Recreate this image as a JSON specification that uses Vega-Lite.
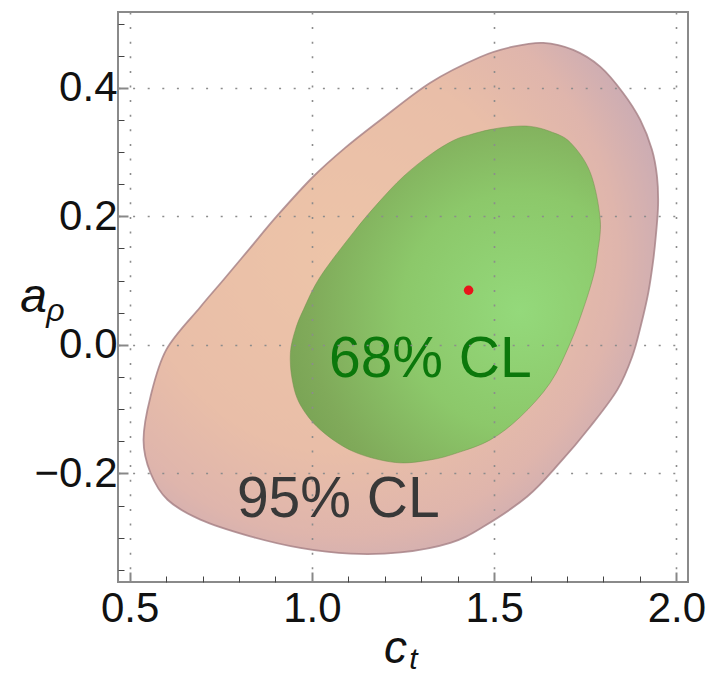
{
  "$schema": "https://vega.github.io/schema/vega-lite/v6.json",
  "width": 570,
  "height": 570,
  "autosize": {"type": "none"},
  "padding": {"left": 118, "top": 12, "right": 23, "bottom": 93},
  "background": "white",
  "config": {"view": {"stroke": "#8a8a8a", "strokeWidth": 2}},
  "datasets": {
    "outer": [
      {"i": 0, "x": 1.635, "y": 0.470},
      {"i": 1, "x": 1.717, "y": 0.459},
      {"i": 2, "x": 1.791, "y": 0.433},
      {"i": 3, "x": 1.854, "y": 0.392},
      {"i": 4, "x": 1.901, "y": 0.350},
      {"i": 5, "x": 1.933, "y": 0.304},
      {"i": 6, "x": 1.947, "y": 0.262},
      {"i": 7, "x": 1.950, "y": 0.218},
      {"i": 8, "x": 1.944, "y": 0.171},
      {"i": 9, "x": 1.936, "y": 0.129},
      {"i": 10, "x": 1.923, "y": 0.081},
      {"i": 11, "x": 1.903, "y": 0.031},
      {"i": 12, "x": 1.879, "y": -0.018},
      {"i": 13, "x": 1.838, "y": -0.070},
      {"i": 14, "x": 1.764, "y": -0.127},
      {"i": 15, "x": 1.681, "y": -0.183},
      {"i": 16, "x": 1.591, "y": -0.236},
      {"i": 17, "x": 1.470, "y": -0.283},
      {"i": 18, "x": 1.380, "y": -0.308},
      {"i": 19, "x": 1.243, "y": -0.323},
      {"i": 20, "x": 1.105, "y": -0.325},
      {"i": 21, "x": 0.968, "y": -0.316},
      {"i": 22, "x": 0.831, "y": -0.298},
      {"i": 23, "x": 0.694, "y": -0.272},
      {"i": 24, "x": 0.604, "y": -0.241},
      {"i": 25, "x": 0.557, "y": -0.199},
      {"i": 26, "x": 0.538, "y": -0.148},
      {"i": 27, "x": 0.557, "y": -0.081},
      {"i": 28, "x": 0.601, "y": -0.007},
      {"i": 29, "x": 0.694, "y": 0.059},
      {"i": 30, "x": 0.757, "y": 0.101},
      {"i": 31, "x": 0.831, "y": 0.151},
      {"i": 32, "x": 0.905, "y": 0.201},
      {"i": 33, "x": 1.004, "y": 0.262},
      {"i": 34, "x": 1.092, "y": 0.307},
      {"i": 35, "x": 1.188, "y": 0.350},
      {"i": 36, "x": 1.325, "y": 0.408},
      {"i": 37, "x": 1.462, "y": 0.448},
      {"i": 38, "x": 1.552, "y": 0.464}
    ],
    "inner": [
      {"i": 0, "x": 1.544, "y": 0.3395},
      {"i": 1, "x": 1.599, "y": 0.340},
      {"i": 2, "x": 1.654, "y": 0.332},
      {"i": 3, "x": 1.709, "y": 0.315},
      {"i": 4, "x": 1.764, "y": 0.268},
      {"i": 5, "x": 1.791, "y": 0.195},
      {"i": 6, "x": 1.783, "y": 0.140},
      {"i": 7, "x": 1.772, "y": 0.106},
      {"i": 8, "x": 1.744, "y": 0.055},
      {"i": 9, "x": 1.709, "y": 0.003},
      {"i": 10, "x": 1.654, "y": -0.059},
      {"i": 11, "x": 1.572, "y": -0.112},
      {"i": 12, "x": 1.489, "y": -0.148},
      {"i": 13, "x": 1.399, "y": -0.168},
      {"i": 14, "x": 1.325, "y": -0.179},
      {"i": 15, "x": 1.229, "y": -0.183},
      {"i": 16, "x": 1.114, "y": -0.166},
      {"i": 17, "x": 1.023, "y": -0.132},
      {"i": 18, "x": 0.968, "y": -0.093},
      {"i": 19, "x": 0.946, "y": -0.054},
      {"i": 20, "x": 0.941, "y": -0.012},
      {"i": 21, "x": 0.955, "y": 0.024},
      {"i": 22, "x": 0.977, "y": 0.055},
      {"i": 23, "x": 1.023, "y": 0.106},
      {"i": 24, "x": 1.114, "y": 0.175},
      {"i": 25, "x": 1.182, "y": 0.221},
      {"i": 26, "x": 1.251, "y": 0.262},
      {"i": 27, "x": 1.325, "y": 0.296},
      {"i": 28, "x": 1.388, "y": 0.318},
      {"i": 29, "x": 1.434, "y": 0.327},
      {"i": 30, "x": 1.489, "y": 0.335}
    ],
    "best": [{"x": 1.430, "y": 0.085}],
    "lab68": [{"x": 1.325, "y": -0.023, "label": "68% CL"}],
    "lab95": [{"x": 1.0725, "y": -0.241, "label": "95% CL"}]
  },
  "resolve": {"axis": {"x": "independent", "y": "independent"}},
  "layer": [
    {
      "data": {"name": "outer"},
      "mark": {
        "type": "line",
        "interpolate": "cardinal-closed",
        "fill": {
          "gradient": "radial",
          "x1": 0.38, "y1": 0.42, "r1": 0,
          "x2": 0.38, "y2": 0.42, "r2": 0.75,
          "stops": [
            {"offset": 0, "color": "#edc4a8"},
            {"offset": 0.5, "color": "#e9bea8"},
            {"offset": 0.72, "color": "#dfb5ac"},
            {"offset": 0.88, "color": "#c9abb4"},
            {"offset": 1, "color": "#ab98b0"}
          ]
        },
        "stroke": "#a58084",
        "strokeWidth": 1.8,
        "strokeOpacity": 0.8
      },
      "encoding": {
        "order": {"field": "i", "type": "quantitative"},
        "x": {
          "field": "x", "type": "quantitative",
          "scale": {"domain": [0.468, 2.032], "nice": false, "zero": false},
          "axis": {
            "orient": "bottom",
            "values": [0.5, 1.0, 1.5, 2.0],
            "format": ".1f",
            "domain": false,
            "grid": true,
            "gridColor": "#8c8c8c",
            "gridDash": [2, 12.6],
            "gridWidth": 1.6,
            "tickSize": -10,
            "tickColor": "#888888",
            "tickWidth": 2,
            "labelFont": "Liberation Sans",
            "labelFontSize": 42,
            "labelColor": "#111111",
            "labelPadding": 16,
            "title": "c",
            "titleFont": "Liberation Sans",
            "titleFontStyle": "italic",
            "titleFontWeight": "normal",
            "titleFontSize": 46,
            "titleColor": "#111111",
            "titleAlign": "center",
            "titleBaseline": "alphabetic",
            "titleX": 277,
            "titleY": 80,
            "zindex": 1
          }
        },
        "y": {
          "field": "y", "type": "quantitative",
          "scale": {"domain": [-0.369, 0.518], "nice": false, "zero": false},
          "axis": {
            "orient": "left",
            "values": [-0.2, 0.0, 0.2, 0.4],
            "format": ".1f",
            "domain": false,
            "grid": true,
            "gridColor": "#8c8c8c",
            "gridDash": [2, 12.6],
            "gridWidth": 1.6,
            "tickSize": -10,
            "tickColor": "#888888",
            "tickWidth": 2,
            "labelFont": "Liberation Sans",
            "labelFontSize": 42,
            "labelColor": "#111111",
            "labelPadding": 11,
            "title": "a",
            "titleFont": "Liberation Sans",
            "titleFontStyle": "italic",
            "titleFontWeight": "normal",
            "titleFontSize": 48,
            "titleColor": "#111111",
            "titleAngle": 0,
            "titleAlign": "center",
            "titleBaseline": "alphabetic",
            "titleX": -85,
            "titleY": 299,
            "zindex": 1
          }
        }
      }
    },
    {
      "data": {"name": "inner"},
      "mark": {
        "type": "line",
        "interpolate": "cardinal-closed",
        "fill": {
          "gradient": "radial",
          "x1": 0.72, "y1": 0.55, "r1": 0,
          "x2": 0.72, "y2": 0.55, "r2": 0.78,
          "stops": [
            {"offset": 0, "color": "#94d97b"},
            {"offset": 0.45, "color": "#8cc86a"},
            {"offset": 0.8, "color": "#80aa5a"},
            {"offset": 1, "color": "#76a052"}
          ]
        },
        "stroke": "#6f8f4c",
        "strokeWidth": 1,
        "strokeOpacity": 0.5
      },
      "encoding": {
        "order": {"field": "i", "type": "quantitative"},
        "x": {"field": "x", "type": "quantitative", "axis": null},
        "y": {"field": "y", "type": "quantitative", "axis": null}
      }
    },
    {
      "data": {"name": "best"},
      "mark": {"type": "point", "filled": true, "color": "#e8141a", "size": 90, "opacity": 1},
      "encoding": {
        "x": {
          "field": "x", "type": "quantitative",
          "axis": {
            "orient": "bottom",
            "values": [0.6, 0.7, 0.8, 0.9, 1.1, 1.2, 1.3, 1.4, 1.6, 1.7, 1.8, 1.9],
            "labels": false,
            "domain": false,
            "grid": false,
            "tickSize": -6,
            "tickColor": "#444444",
            "tickWidth": 1,
            "title": "t",
            "titleFont": "Liberation Sans",
            "titleFontStyle": "italic",
            "titleFontWeight": "normal",
            "titleFontSize": 30,
            "titleColor": "#111111",
            "titleAlign": "center",
            "titleBaseline": "bottom",
            "titleX": 295,
            "titleY": 92,
            "zindex": 1
          }
        },
        "y": {
          "field": "y", "type": "quantitative",
          "axis": {
            "orient": "left",
            "values": [-0.35, -0.3, -0.25, -0.15, -0.1, -0.05, 0.05, 0.1, 0.15, 0.25, 0.3, 0.35, 0.45, 0.5],
            "labels": false,
            "domain": false,
            "grid": false,
            "tickSize": -6,
            "tickColor": "#444444",
            "tickWidth": 1,
            "title": "ρ",
            "titleFont": "Liberation Sans",
            "titleFontStyle": "italic",
            "titleFontWeight": "normal",
            "titleFontSize": 32,
            "titleColor": "#111111",
            "titleAngle": 0,
            "titleAlign": "center",
            "titleBaseline": "alphabetic",
            "titleX": -63,
            "titleY": 308,
            "zindex": 1
          }
        }
      }
    },
    {
      "data": {"name": "lab68"},
      "mark": {"type": "text", "font": "Liberation Sans", "fontSize": 57, "color": "#0b780b", "align": "center", "baseline": "middle"},
      "encoding": {
        "x": {"field": "x", "type": "quantitative", "axis": null},
        "y": {"field": "y", "type": "quantitative", "axis": null},
        "text": {"field": "label"}
      }
    },
    {
      "data": {"name": "lab95"},
      "mark": {"type": "text", "font": "Liberation Sans", "fontSize": 57, "color": "#383838", "align": "center", "baseline": "middle"},
      "encoding": {
        "x": {"field": "x", "type": "quantitative", "axis": null},
        "y": {"field": "y", "type": "quantitative", "axis": null},
        "text": {"field": "label"}
      }
    }
  ]
}
